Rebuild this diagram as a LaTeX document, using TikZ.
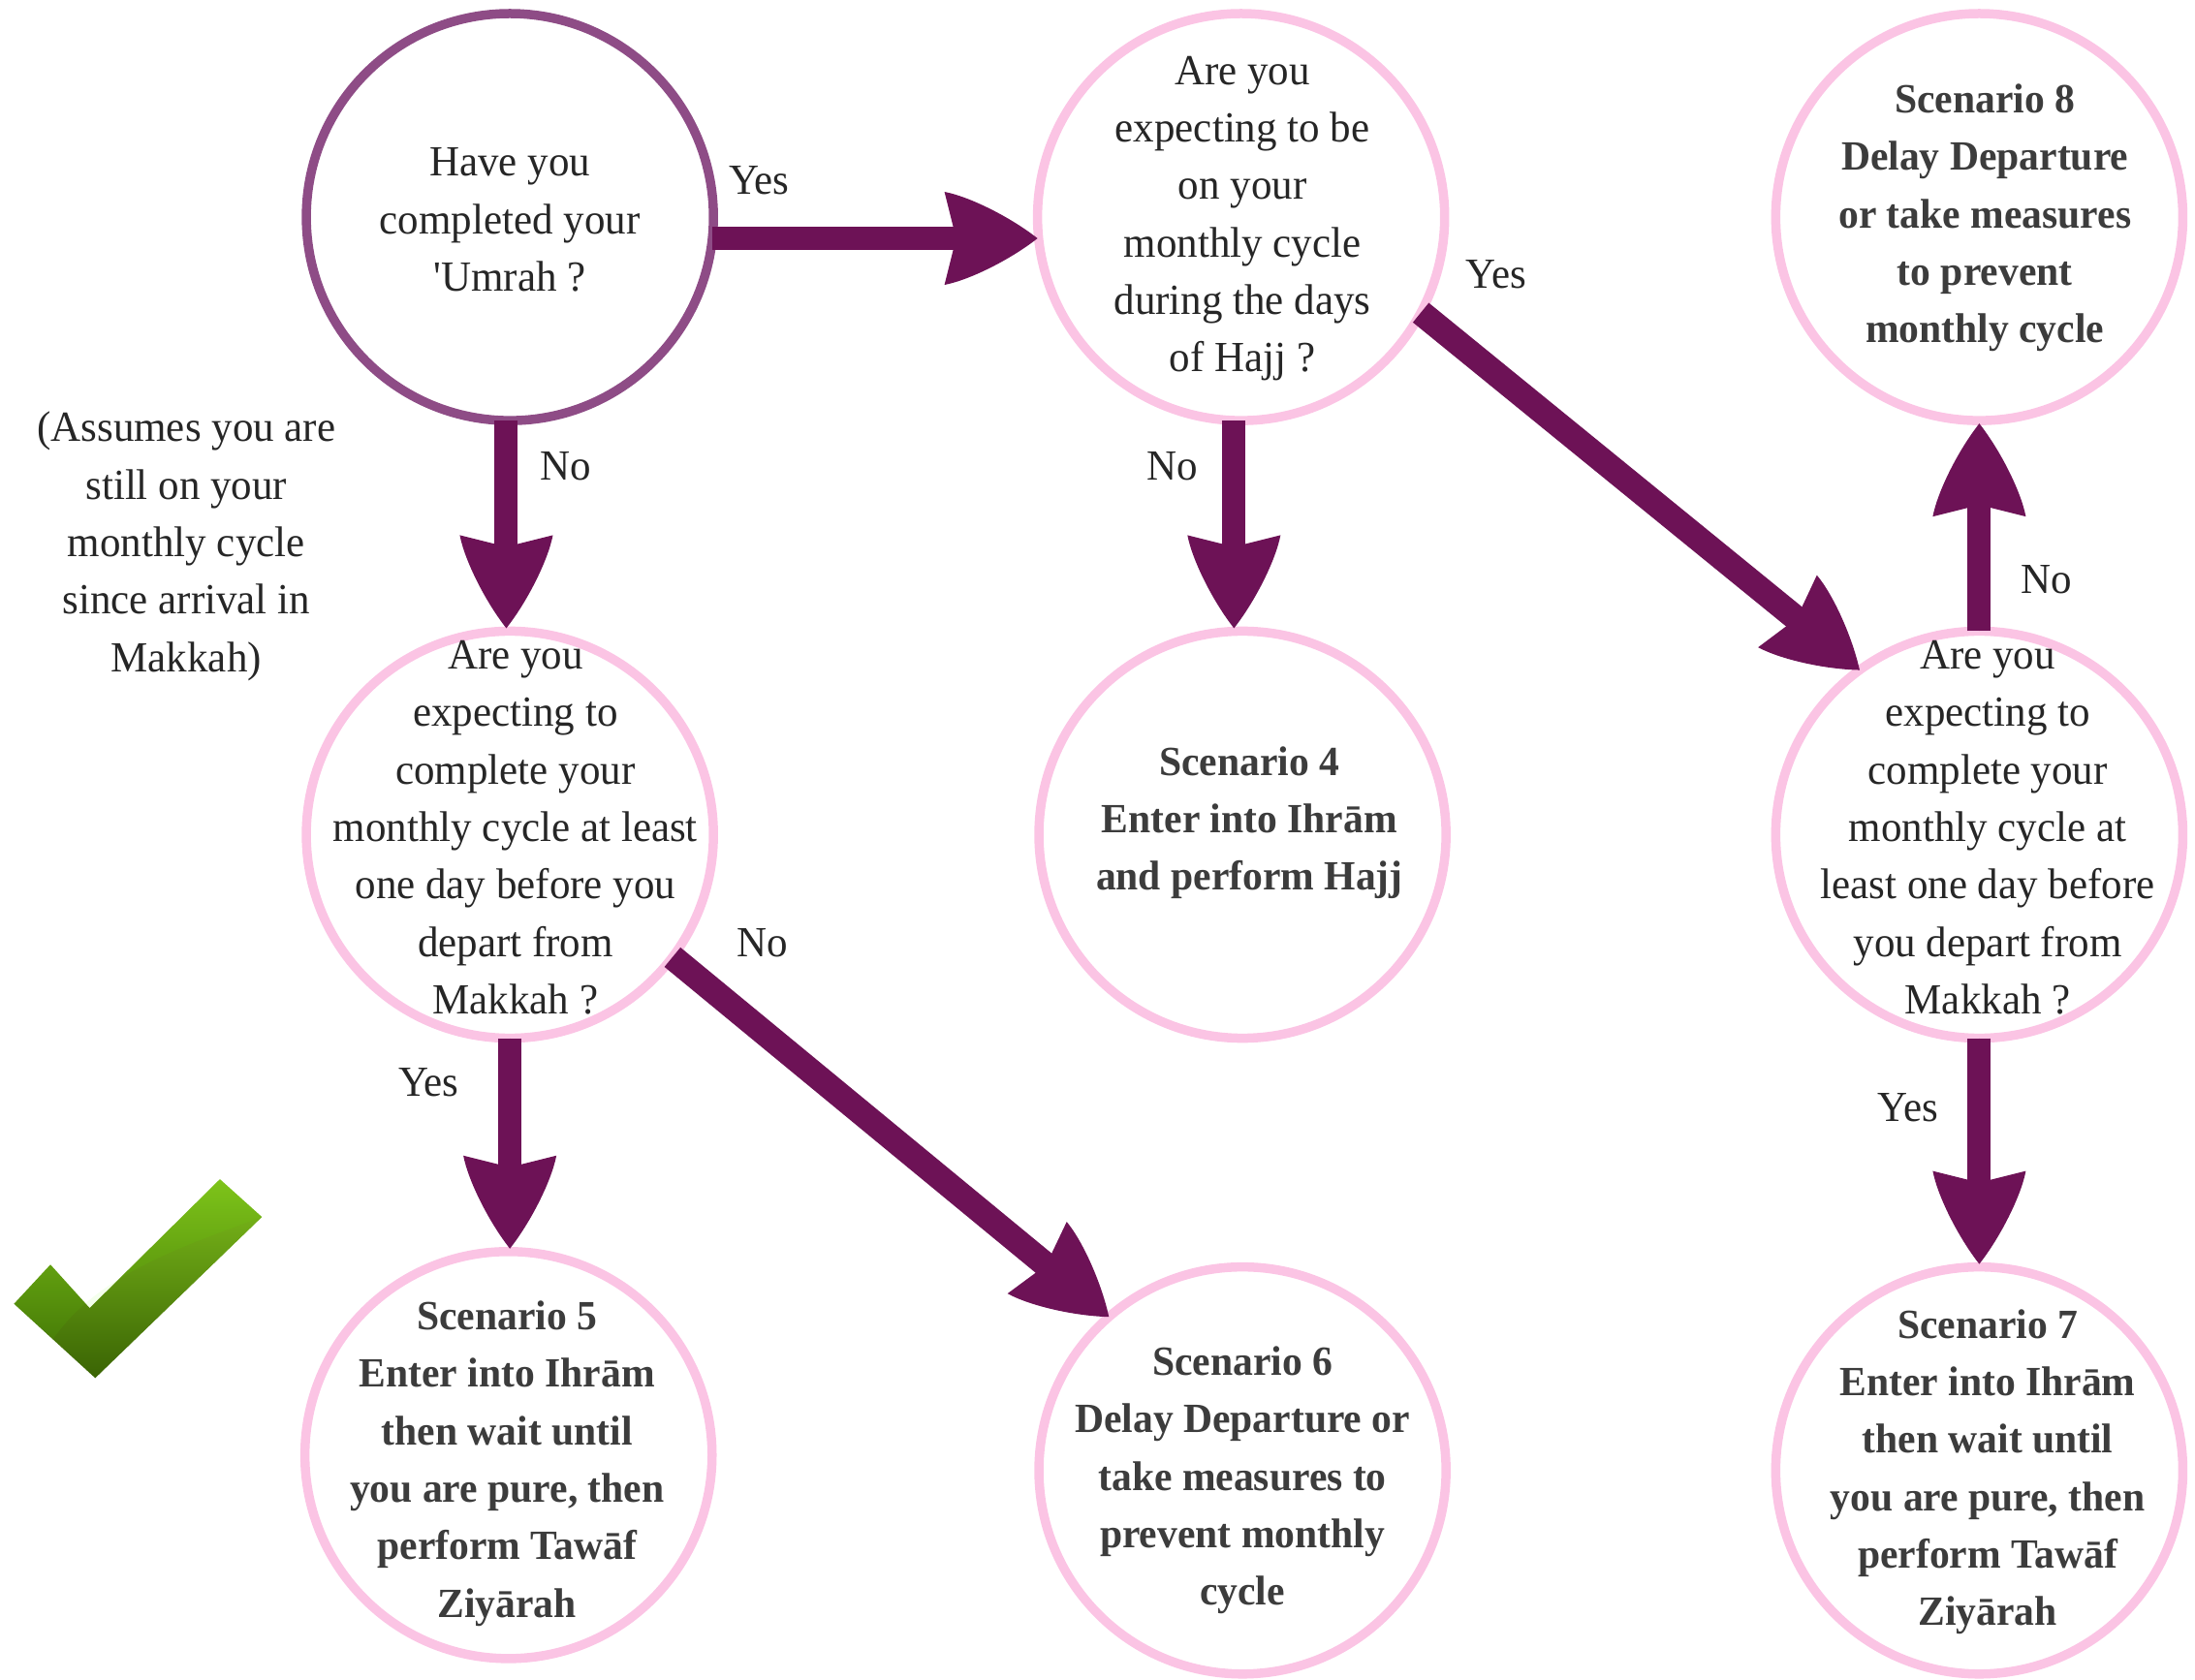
\documentclass[tikz,border=0pt]{standalone}
\usepackage{fontspec}
\setmainfont[Ligatures=TeXOff,FakeStretch=0.97]{Liberation Serif}
\usetikzlibrary{arrows.meta,calc}
\definecolor{plum}{HTML}{6D1256}
\definecolor{ringpink}{HTML}{FBC4E4}
\definecolor{ringplum}{HTML}{8E4C86}
\definecolor{inkreg}{HTML}{262626}
\definecolor{inkbold}{HTML}{3C3C3C}
\pgfdeclarearrow{
  name=Dart,
  setup code={
    \pgfarrowssettipend{0pt}
    \pgfarrowssetbackend{-0.96cm}
    \pgfarrowssetlineend{-0.8cm}
    \pgfarrowssetvisualbackend{-0.8cm}
    \pgfarrowshullpoint{0pt}{0pt}
    \pgfarrowshullpoint{-0.96cm}{0.48cm}
    \pgfarrowshullpoint{-0.96cm}{-0.48cm}
  },
  drawing code={
    \pgfpathmoveto{\pgfpointorigin}
    \pgfpathcurveto{\pgfpoint{-0.28cm}{0.22cm}}{\pgfpoint{-0.7cm}{0.43cm}}{\pgfpoint{-0.96cm}{0.48cm}}
    \pgfpathlineto{\pgfpoint{-0.87cm}{0.12cm}}
    \pgfpathlineto{\pgfpoint{-0.87cm}{-0.12cm}}
    \pgfpathlineto{\pgfpoint{-0.96cm}{-0.48cm}}
    \pgfpathcurveto{\pgfpoint{-0.7cm}{-0.43cm}}{\pgfpoint{-0.28cm}{-0.22cm}}{\pgfpointorigin}
    \pgfpathclose
    \pgfusepathqfill
  }
}
\tikzset{
  x=0.014454cm, y=-0.014454cm,
  ring/.style={circle,draw=ringpink,line width=0.095cm,minimum size=4.2cm,inner sep=0pt,outer sep=0pt},
  ringq/.style={ring,draw=ringplum},
  qtext/.style={align=center,inner sep=0pt,text=inkreg,font=\fontsize{12.6}{16.87}\selectfont},
  atext/.style={align=center,inner sep=0pt,text=inkbold,font=\fontsize{12.2}{16.87}\selectfont\bfseries},
  lab/.style={inner sep=0pt,text=inkreg,font=\fontsize{12.6}{16.87}\selectfont},
  flow/.style={draw=plum,fill=plum,line width=0.24cm,-{Dart},shorten >=0.03cm},
  flowdiag/.style={flow,shorten >=0cm,line width=0.26cm},
}
\begin{document}
\begin{tikzpicture}
\useasboundingbox (0,0) rectangle (1567,1199);
% circles
\node[ringq] (c1) at (364,155) {};
\node[ring] (c2) at (886,155) {};
\node[ring] (c8) at (1413,155) {};
\node[ring] (c3) at (364,596) {};
\node[ring] (c4) at (887,596) {};
\node[ring] (cq) at (1413,596) {};
\node[ring] (c5) at (363,1039) {};
\node[ring] (c6) at (887,1050) {};
\node[ring] (c7) at (1413,1050) {};
% texts
\node[qtext] (t1) at (364,157) {Have you\\completed your\\'Umrah ?};
\node[qtext] (t2) at (887,156) {Are you\\expecting to be\\on your\\monthly cycle\\during the days\\of Hajj ?};
\node[atext] (t8) at (1417,155.5) {Scenario 8\\Delay Departure\\or take measures\\to prevent\\monthly cycle};
\node[qtext] (t3) at (368,591) {Are you\\expecting to\\complete your\\monthly cycle at least\\one day before you\\depart from\\Makkah ?};
\node[atext] (t4) at (892,587.5) {Scenario 4\\Enter into Ihrām\\and perform Hajj};
\node[qtext] (tq) at (1419,591) {Are you\\expecting to\\complete your\\monthly cycle at\\least one day before\\you depart from\\Makkah ?};
\node[atext] (t5) at (362,1045) {Scenario 5\\Enter into Ihrām\\then wait until\\you are pure, then\\perform Tawāf\\Ziyārah};
\node[atext] (t6) at (887,1057) {Scenario 6\\Delay Departure or\\take measures to\\prevent monthly\\cycle};
\node[atext] (t7) at (1419,1051) {Scenario 7\\Enter into Ihrām\\then wait until\\you are pure, then\\perform Tawāf\\Ziyārah};
\node[qtext] (note) at (133,390) {(Assumes you are\\still on your\\monthly cycle\\since arrival in\\Makkah)};
% connectors
\draw[flow,shorten >=0cm] (c1.-6) -- (c1.-6 -| c2.west);
\draw[flow] (c1.-91) -- (c1.-91 |- c3.north);
\draw[flow] (c2.-92) -- (c2.-92 |- c4.north);
\draw[flowdiag] (c2.-28) -- (cq.126.5);
\draw[flow] (cq.north) -- (c8.south);
\draw[flow] (c3.-90) -- (c3.-90 |- c5.north);
\draw[flowdiag] (c3.-37.4) -- (c6.131);
\draw[flow] (cq.south) -- (cq.south |- c7.north);
% labels
\node[lab] (l1) at (542,129) {Yes};
\node[lab] (l2) at (404,333) {No};
\node[lab] (l3) at (837,333) {No};
\node[lab] (l4) at (1068,196) {Yes};
\node[lab] (l5) at (1461,414) {No};
\node[lab] (l6) at (544,673) {No};
\node[lab] (l7) at (306,773) {Yes};
\node[lab] (l8) at (1362,791) {Yes};
% check mark
\shade[top color={rgb,255:red,128;green,192;blue,28},middle color={rgb,255:red,104;green,162;blue,14},bottom color={rgb,255:red,58;green,100;blue,4}]
  (10,931) -- (36,903) -- (64,934) -- (157,842) -- (187,869) -- (68,984) -- cycle;
\fill[green!60!yellow,opacity=0.07] (10,931) -- (36,903) -- (64,934) -- (157,842) -- (187,869) .. controls (130,890) and (70,910) .. (38,956) -- cycle;
\end{tikzpicture}
\end{document}
